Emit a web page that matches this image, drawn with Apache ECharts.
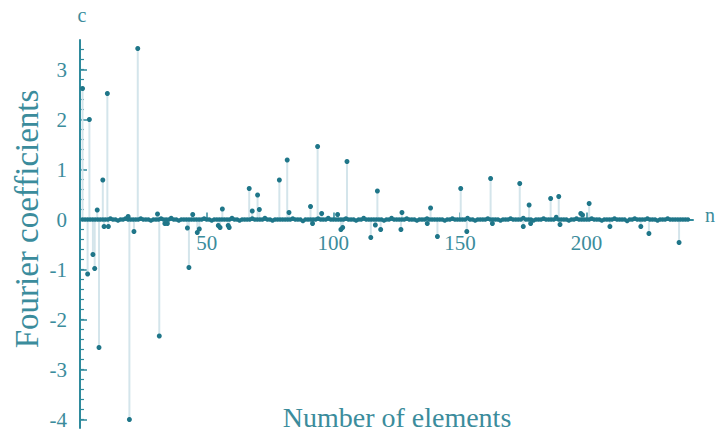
<!DOCTYPE html>
<html><head><meta charset="utf-8">
<script src="https://cdn.jsdelivr.net/npm/echarts@6/dist/echarts.min.js"></script>
<style>html,body{margin:0;padding:0;background:#fff}#c{width:718px;height:435px}</style>
</head><body><div id="c"></div>
<script>
// notable coefficients (n, c)
const spikeN = [1, 3, 3.7, 5.1, 5.8, 6.8, 7.5, 9.0, 9.5, 10.8, 11.2, 19, 19.5, 21.3, 22.8, 30.6, 31.3, 33.5, 34.5,
  42.4, 43.0, 44.5, 46.3, 47.1, 54.6, 55.3, 56.2, 58.5, 58.9, 66.8, 68, 70.1, 70.8, 78.7, 81.8, 82.5,
  91, 91.8, 93.8, 95.4, 101.7, 103, 103.7, 105.4, 114.8, 116.6, 117.4, 118.7, 126.7, 127.1, 137.1, 138.4,
  141.1, 150.3, 152.7, 162.1, 162.8, 173.6, 175, 177.3, 177.9, 185.8, 189, 189.5, 197.7, 198.4, 201,
  209.2, 221.4, 224.6, 236.5];
const spikeC = [2.62, -1.09, 2.0, -0.7, -0.98, 0.19, -2.56, 0.79, -0.14, 2.52, -0.14, 0.06, -4.0, -0.24, 3.42, 0.11, -2.33, -0.08, -0.08,
  -0.17, -0.96, 0.1, -0.26, -0.19, -0.12, -0.16, 0.21, -0.12, -0.16, 0.62, 0.17, 0.49, 0.2, 0.79, 1.19, 0.14,
  0.26, -0.08, 1.46, 0.12, 0.1, -0.2, -0.16, 1.16, -0.36, -0.11, 0.57, -0.2, -0.2, 0.14, -0.08, 0.23,
  -0.34, 0.62, -0.24, 0.82, -0.08, 0.72, -0.14, 0.29, -0.08, 0.42, 0.46, -0.1, 0.12, 0.09, 0.32,
  -0.14, -0.14, -0.28, -0.46];
// near-zero coefficients for n = 1 .. 240 (the dense band on the axis)
const baseC = [
  0, 0, 0, 0, 0, 0, 0, 0, 0, 0, 0, 0.02, 0, 0, -0.02, 0, 0, 0.02, 0, 0,
  0, 0, 0, 0.02, 0, 0, 0, -0.02, 0, 0, 0, 0.02, 0, 0, 0, 0.03, 0, 0, -0.02, 0,
  0, 0, 0, 0, 0, 0, 0, 0, 0.02, 0, 0, -0.02, 0, 0, 0, 0, 0, 0, 0, 0.03,
  0, 0, -0.02, 0, 0, 0, 0, 0.02, 0, 0, 0, 0, 0.03, 0, 0, -0.02, 0, 0, 0, 0,
  0, 0, 0, 0.02, 0, 0, 0, -0.03, 0, 0, 0, 0, 0, 0.02, 0, 0, 0, 0.03, 0, 0,
  0, 0, 0, 0, 0.02, 0, 0, 0, -0.02, 0, 0, 0.03, 0, 0, 0, 0, 0, 0, 0, -0.02,
  0, 0, 0.03, 0, 0, 0, 0, 0, 0.02, 0, 0, 0, -0.02, 0, 0, 0, 0.02, 0, 0, 0,
  0, 0, 0, -0.02, 0, 0, 0.02, 0, 0, 0, 0, 0, 0.03, 0, 0, -0.02, 0, 0, 0, 0,
  0.02, 0, 0, 0, 0, -0.02, 0, 0, 0, 0.02, 0, 0, 0, 0, 0.03, 0, 0, 0, -0.02, 0,
  0, 0, 0.02, 0, 0, 0, 0, 0.05, 0, 0, 0, 0, -0.02, 0, 0, 0.02, 0, 0, 0, 0,
  0, 0.02, 0, 0, 0, -0.02, 0, 0, 0, 0, 0.02, 0, 0, 0, 0, -0.03, 0, 0, 0.02, 0,
  0, 0, 0, 0.02, 0, 0, 0, -0.02, 0, 0, 0, 0.02, 0, 0, 0, 0, 0, 0, 0, 0];
const xTickLabels = [50, 100, 150, 200];
const yTickLabels = [-4, -3, -2, -1, 0, 1, 2, 3];
const yMinorTicks = [-4, -3.8, -3.6, -3.4, -3.2, -3, -2.8, -2.6, -2.4, -2.2, -2, -1.8, -1.6, -1.4, -1.2, -1,
  -0.8, -0.6, -0.4, -0.2, 0, 0.2, 0.4, 0.6, 0.8, 1, 1.2, 1.4, 1.6, 1.8, 2, 2.2, 2.4, 2.6, 2.8, 3, 3.2, 3.4];

const AXIS = '#2f8a9c', TEXT = '#3b8c9c', DOT = '#1f7689', STEM = '#d4e5eb';
const FONT = '"Liberation Serif", "DejaVu Serif", serif';
const Y_MIN = -4.17, Y_MAX = 3.59;
const GRID_TOP = 40, GRID_BOTTOM = 7, PLOT_H = 435 - GRID_TOP - GRID_BOTTOM;
// the x axis sits on c = 0: shift it up from the grid's bottom edge by the height of the negative part
const X_AXIS_OFFSET = -PLOT_H * (0 - Y_MIN) / (Y_MAX - Y_MIN);

const spikes = spikeN.map((n, i) => [n, spikeC[i]]);
const base = baseC.map((c, i) => [i + 1, c]);

const chart = echarts.init(document.getElementById('c'), null, {renderer: 'svg'});
chart.setOption({
  animation: false,
  grid: {left: 80, right: 25, top: GRID_TOP, bottom: GRID_BOTTOM, containLabel: false, outerBoundsMode: 'none'},
  xAxis: {
    type: 'value', min: 0, max: 242, position: 'bottom', offset: X_AXIS_OFFSET,
    axisLine: {show: true, onZero: false, lineStyle: {color: AXIS, width: 2}},
    axisTick: {show: true, inside: true, length: 7, customValues: xTickLabels, lineStyle: {color: AXIS, width: 1.5}},
    axisLabel: {show: true, customValues: xTickLabels, margin: 13, color: TEXT, fontFamily: FONT, fontSize: 21},
    splitLine: {show: false}
  },
  yAxis: [{
    type: 'value', min: Y_MIN, max: Y_MAX, position: 'left',
    axisLine: {show: true, onZero: false, lineStyle: {color: AXIS, width: 2}},
    axisTick: {show: true, inside: true, length: 7, customValues: yTickLabels, lineStyle: {color: AXIS, width: 1.5}},
    axisLabel: {show: true, customValues: yTickLabels, margin: 13, color: TEXT, fontFamily: FONT, fontSize: 21},
    splitLine: {show: false}
  }, {
    type: 'value', min: Y_MIN, max: Y_MAX, position: 'left', offset: 0,
    axisLine: {show: false, onZero: false},
    axisTick: {show: true, inside: true, length: 4, customValues: yMinorTicks, lineStyle: {color: AXIS, width: 1.2}},
    axisLabel: {show: false},
    splitLine: {show: false}
  }],
  graphic: [
    {type: 'text', x: 82, y: 15, style: {text: 'c', font: '20px ' + FONT, fill: TEXT, align: 'center', verticalAlign: 'middle'}},
    {type: 'text', x: 710, y: 215, style: {text: 'n', font: '20px ' + FONT, fill: TEXT, align: 'center', verticalAlign: 'middle'}},
    {type: 'text', x: 397, y: 417, style: {text: 'Number of elements', font: '28px ' + FONT, fill: TEXT, align: 'center', verticalAlign: 'middle'}},
    {type: 'text', x: 27, y: 219, rotation: Math.PI / 2, style: {text: 'Fourier coefficients', font: '33px ' + FONT, fill: TEXT, align: 'center', verticalAlign: 'middle'}}
  ],
  series: [{
    type: 'custom', z: 1, silent: true,
    renderItem: function (params, api) {
      const p0 = api.coord([api.value(0), 0]);
      const p1 = api.coord([api.value(0), api.value(1)]);
      return {type: 'line', shape: {x1: p0[0], y1: p0[1], x2: p1[0], y2: p1[1]}, style: {stroke: STEM, lineWidth: 2}};
    },
    data: spikes
  }, {
    type: 'scatter', z: 3, symbolSize: 4.5, itemStyle: {color: DOT, opacity: 1},
    data: base
  }, {
    type: 'scatter', z: 4, symbolSize: 5, itemStyle: {color: DOT, opacity: 1},
    data: spikes
  }]
});
</script></body></html>
